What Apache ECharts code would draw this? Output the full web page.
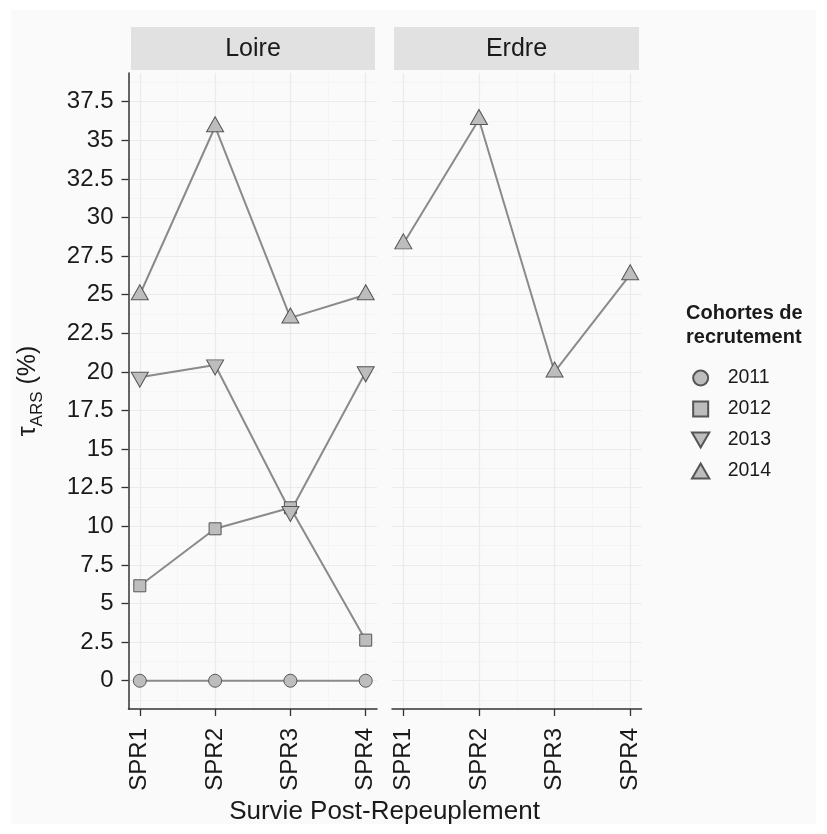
<!DOCTYPE html>
<html>
<head>
<meta charset="utf-8">
<script src="https://cdn.jsdelivr.net/npm/echarts@6/dist/echarts.min.js"></script>
<style>
html,body{margin:0;padding:0;background:#ffffff;}
#bg{position:absolute;left:11px;top:10px;width:805px;height:814px;background:#fafafa;}
#chart{position:absolute;left:0;top:0;width:827px;height:834px;}
</style>
</head>
<body>
<div id="bg"></div>
<div id="chart"></div>
<script>
// ---- data ----
const xCategories = ['SPR1', 'SPR2', 'SPR3', 'SPR4'];
const panels = ['Loire', 'Erdre'];
const cohorts = ['2011', '2012', '2013', '2014'];
const loire2011 = [0, 0, 0, 0];
const loire2012 = [6.15, 9.84, 11.2, 2.63];
const loire2013 = [19.65, 20.45, 10.95, 20.0];
const loire2014 = [25.0, 35.88, 23.5, 25.0];
const erdre2014 = [28.3, 36.35, 20.0, 26.3];
const yTicks = [0, 2.5, 5, 7.5, 10, 12.5, 15, 17.5, 20, 22.5, 25, 27.5, 30, 32.5, 35, 37.5];
const yMinorTicks = [-1.25, 1.25, 3.75, 6.25, 8.75, 11.25, 13.75, 16.25, 18.75, 21.25, 23.75, 26.25, 28.75, 31.25, 33.75, 36.25, 38.75];
const xTicks = [1, 2, 3, 4];
const xMinorTicks = [1.5, 2.5, 3.5];
const yRange = [-1.83, 39.36];
const xRange = [0.85, 4.15];

// ---- styling ----
const lineColor = '#8a8a8a';
const fillColor = '#bdbdbd';
const edgeColor = '#555555';
const majorGrid = '#ebebeb';
const minorGrid = '#f4f4f4';
const axisColor = '#333333';
const textColor = '#1a1a1a';
const symUp = 'path://M5,0L10,8.66L0,8.66Z';
const symDown = 'path://M0,0L10,0L5,8.66Z';
const symSquare = 'path://M0,0L10,0L10,10L0,10Z';
const symbols = {
  '2011': {symbol: 'circle', size: 13, offset: [0, 0]},
  '2012': {symbol: 'rect', size: 12, offset: [0, 0]},
  '2013': {symbol: symDown, size: [17, 15], offset: [0, 2.4]},
  '2014': {symbol: symUp, size: [17, 15], offset: [0, -2.4]}
};

const grids = [
  {left: 128.5, top: 73, width: 248.5, height: 636},
  {left: 392, top: 73, width: 249.5, height: 636}
];

function mainX(gi) {
  return {
    type: 'value', gridIndex: gi, min: xRange[0], max: xRange[1], z: 1,
    axisLine: {show: true, onZero: false, lineStyle: {color: axisColor, width: 1.5}},
    axisTick: {show: true, customValues: xTicks, length: 7, lineStyle: {color: axisColor, width: 1.3}},
    axisLabel: {show: true, customValues: xTicks, rotate: 90, fontSize: 24, margin: 19,
      color: textColor, fontFamily: 'Liberation Sans, Arial, sans-serif',
      formatter: v => xCategories[Math.round(v) - 1]},
    splitLine: {show: true, lineStyle: {color: majorGrid, width: 1.2}}
  };
}
function minorX(gi) {
  return {
    type: 'value', gridIndex: gi, min: xRange[0], max: xRange[1], z: 0,
    axisLine: {show: false}, axisTick: {show: false, customValues: xMinorTicks},
    axisLabel: {show: false, customValues: xMinorTicks},
    splitLine: {show: true, lineStyle: {color: minorGrid, width: 1}}
  };
}
function mainY(gi, visible) {
  return {
    type: 'value', gridIndex: gi, min: yRange[0], max: yRange[1], z: 1,
    axisLine: {show: visible, onZero: false, lineStyle: {color: axisColor, width: 1.5}},
    axisTick: {show: visible, customValues: yTicks, length: 7, lineStyle: {color: axisColor, width: 1.3}},
    axisLabel: {show: visible, customValues: yTicks, fontSize: 24, margin: 15,
      color: textColor, fontFamily: 'Liberation Sans, Arial, sans-serif'},
    splitLine: {show: true, lineStyle: {color: majorGrid, width: 1.2}}
  };
}
function minorY(gi) {
  return {
    type: 'value', gridIndex: gi, min: yRange[0], max: yRange[1], z: 0,
    axisLine: {show: false}, axisTick: {show: false, customValues: yMinorTicks},
    axisLabel: {show: false, customValues: yMinorTicks},
    splitLine: {show: true, lineStyle: {color: minorGrid, width: 1}}
  };
}

function mkSeries(name, values, axisIdx) {
  const s = symbols[name];
  return {
    type: 'line', name: name, xAxisIndex: axisIdx, yAxisIndex: axisIdx,
    data: values.map((v, i) => [xTicks[i], v]),
    symbol: s.symbol, symbolSize: s.size, symbolOffset: s.offset, symbolKeepAspect: false,
    showSymbol: true, animation: false, z: 3,
    lineStyle: {color: lineColor, width: 2},
    itemStyle: {color: fillColor, borderColor: edgeColor, borderWidth: 1, opacity: 1},
    emphasis: {disabled: true}
  };
}

const series = [
  mkSeries('2011', loire2011, 0),
  mkSeries('2012', loire2012, 0),
  mkSeries('2013', loire2013, 0),
  mkSeries('2014', loire2014, 0),
  mkSeries('2014', erdre2014, 1)
];

const strips = [
  {x: 131, w: 244, label: panels[0]},
  {x: 394, w: 245, label: panels[1]}
];
const graphics = [];
strips.forEach(s => {
  graphics.push({type: 'rect', left: s.x, top: 27, shape: {width: s.w, height: 43}, style: {fill: '#e0e1e0'}});
  graphics.push({type: 'text', x: s.x + s.w / 2, y: 49,
    style: {text: s.label, font: '25px "Liberation Sans", Arial, sans-serif', fill: textColor, align: 'center', verticalAlign: 'middle'}});
});
graphics.push({type: 'text', x: 384.5, y: 812,
  style: {text: 'Survie Post-Repeuplement', font: '26px "Liberation Sans", Arial, sans-serif', fill: textColor, align: 'center', verticalAlign: 'middle'}});
graphics.push({type: 'text', x: 31, y: 391, rotation: Math.PI / 2,
  style: {text: '{t|τ}{s|ARS}{t| (%)}', align: 'center', verticalAlign: 'middle', fill: textColor,
    rich: {
      t: {fontSize: 25, fontFamily: '"Liberation Sans", Arial, sans-serif', fill: textColor, lineHeight: 30, verticalAlign: 'top', padding: [0, 0, 0, 0]},
      s: {fontSize: 17, fontFamily: '"Liberation Sans", Arial, sans-serif', fill: textColor, lineHeight: 17, verticalAlign: 'bottom', padding: [0, 0, 0, 0]}
    }}});
graphics.push({type: 'text', left: 686, top: 301,
  style: {text: 'Cohortes de\nrecrutement', font: 'bold 20px "Liberation Sans", Arial, sans-serif', fill: textColor, lineHeight: 24}});

const legendIcons = {'2011': 'circle', '2012': symSquare, '2013': symDown, '2014': symUp};

const option = {
  animation: false,
  backgroundColor: 'transparent',
  grid: grids,
  xAxis: [mainX(0), mainX(1), minorX(0), minorX(1)],
  yAxis: [mainY(0, true), mainY(1, false), minorY(0), minorY(1)],
  series: series,
  legend: {
    orient: 'vertical', left: 686, top: 363, itemWidth: 44, itemHeight: 15, itemGap: 11,
    symbolKeepAspect: true,
    data: cohorts.map(c => ({name: c, icon: legendIcons[c]})),
    textStyle: {fontSize: 19.5, color: textColor, fontFamily: 'Liberation Sans, Arial, sans-serif', lineHeight: 20},
    selectedMode: false
  },
  graphic: graphics
};

const chart = echarts.init(document.getElementById('chart'), null, {renderer: 'canvas'});
chart.setOption(option);
</script>
</body>
</html>
